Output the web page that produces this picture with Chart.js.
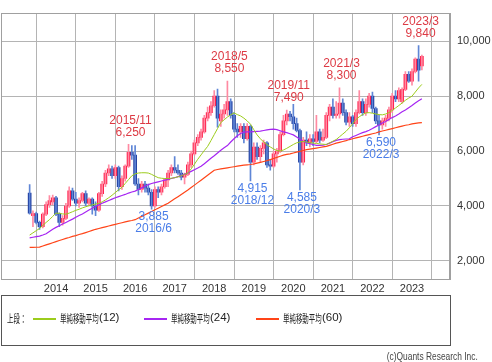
<!DOCTYPE html>
<html>
<head>
<meta charset="utf-8">
<script src="https://cdn.jsdelivr.net/npm/chart.js@4/dist/chart.umd.min.js"></script>
<style>
body { margin: 0; background: #fff; width: 492px; height: 362px; overflow: hidden; position: relative; }
#c { position: absolute; left: 0; top: 0; }
#legend { position: absolute; left: 1px; top: 295px; width: 448px; height: 49px; border: 1px solid #555; }
.lg { position: absolute; font: 11.5px "Noto Sans CJK JP", sans-serif; color: #222; white-space: nowrap; }
.sq { display: inline-block; transform: scaleX(0.56); transform-origin: left center; }
.num { position: absolute; font: 11.5px "Liberation Sans Narrow", "Arial Narrow", sans-serif; color: #222; white-space: nowrap; }
.ln { position: absolute; height: 1.5px; width: 23px; }
#copy { position: absolute; right: 14px; top: 350px; font: 10.5px "Liberation Sans Narrow", "Arial Narrow", sans-serif; color: #444; white-space: nowrap; transform: scaleX(0.8); transform-origin: right center; }
</style>
</head>
<body>
<canvas id="c" width="492" height="296"></canvas>
<div id="legend"></div>
<div id="copy">(c)Quants Research Inc.</div>
<script>
// monthly candles, 2013/5 - 2023/4
months = [
    '2013/5','2013/6','2013/7','2013/8','2013/9','2013/10','2013/11','2013/12',
    '2014/1','2014/2','2014/3','2014/4','2014/5','2014/6','2014/7','2014/8','2014/9','2014/10','2014/11','2014/12',
    '2015/1','2015/2','2015/3','2015/4','2015/5','2015/6','2015/7','2015/8','2015/9','2015/10','2015/11','2015/12',
    '2016/1','2016/2','2016/3','2016/4','2016/5','2016/6','2016/7','2016/8','2016/9','2016/10','2016/11','2016/12',
    '2017/1','2017/2','2017/3','2017/4','2017/5','2017/6','2017/7','2017/8','2017/9','2017/10','2017/11','2017/12',
    '2018/1','2018/2','2018/3','2018/4','2018/5','2018/6','2018/7','2018/8','2018/9','2018/10','2018/11','2018/12',
    '2019/1','2019/2','2019/3','2019/4','2019/5','2019/6','2019/7','2019/8','2019/9','2019/10','2019/11','2019/12',
    '2020/1','2020/2','2020/3','2020/4','2020/5','2020/6','2020/7','2020/8','2020/9','2020/10','2020/11','2020/12',
    '2021/1','2021/2','2021/3','2021/4','2021/5','2021/6','2021/7','2021/8','2021/9','2021/10','2021/11','2021/12',
    '2022/1','2022/2','2022/3','2022/4','2022/5','2022/6','2022/7','2022/8','2022/9','2022/10','2022/11','2022/12',
    '2023/1','2023/2','2023/3','2023/4'
];
opens = [
    4470,3650,3720,3400,3250,3700,4050,4150,
    4300,3700,3400,3550,4000,4550,4250,4100,4200,4450,4100,4250,
    4000,3850,4450,4800,5200,5350,5100,5400,4700,5000,5450,5950,
    5850,4800,4600,4800,4650,4500,4000,4600,4500,4700,4950,5200,
    5400,5300,5200,5050,5150,5500,5900,6300,6500,6700,7200,7400,
    7650,8000,7100,7350,7500,7800,7300,6800,6700,6900,6450,6900,
    5600,6150,5800,6100,6300,5500,5450,5900,6000,6600,7100,7350,
    7250,7000,6750,5600,6400,6300,6450,6350,6700,6400,6500,7300,
    7600,7300,7350,7750,7400,7050,7250,7000,7400,7800,7400,7700,
    8000,7550,7100,6950,7100,7200,7500,8000,7900,7800,8250,8800,
    8550,8900,9350,9100
];
highs = [
    4780,3820,3780,3450,3750,4150,4380,4400,
    4350,3750,3650,4100,4700,4650,4500,4300,4500,4550,4300,4300,
    4150,4500,4900,5300,5500,5450,5500,5450,5100,5500,6250,6200,
    6200,5000,4900,4900,4800,4600,4700,4700,4800,5000,5300,5500,
    5800,5500,5300,5200,5600,6000,6400,6600,6800,7300,7600,7800,
    8200,8260,7500,7700,8550,7900,7400,7000,7000,7000,7000,6950,
    6300,6300,6200,6400,6350,5700,6000,6100,6700,7300,7490,7450,
    7700,7200,6800,6500,6700,6600,6600,7300,6800,6800,7400,7700,
    7900,7800,8300,7900,7500,7400,7300,7500,8200,7900,7900,8100,
    8150,7600,7300,7200,7300,7600,8100,8200,8300,8300,8900,8900,
    9000,9400,9840,9500
];
lows = [
    3700,3250,3350,3150,3200,3650,3950,4050,
    3650,3250,3300,3500,3950,4200,4000,3950,4150,4000,4000,3700,
    3650,3800,4350,4700,5100,5000,5000,4550,4600,4900,5400,5700,
    4750,4400,4500,4500,4400,3885,3950,4300,4400,4650,4700,5100,
    5200,5150,4950,4800,5100,5400,5850,6200,6400,6650,7100,7300,
    7600,6870,6900,7200,7300,7200,6700,6500,6500,6300,6400,4915,
    5500,5700,5600,5900,5400,5300,5400,5600,5950,6550,6950,7100,
    6800,6700,4585,5500,6200,6150,6200,6300,6300,6350,6450,7100,
    7200,7200,7200,7300,6950,6900,6900,6900,7350,7300,7300,7600,
    7400,7000,6590,6800,6900,7100,7400,7800,7800,7750,8200,8500,
    8400,8850,8550,8960
];
closes = [
    3740,3720,3400,3250,3700,4050,4200,4300,
    3700,3400,3550,4000,4550,4250,4100,4200,4450,4100,4250,4000,
    3850,4450,4800,5200,5350,5100,5400,4700,5000,5450,5950,5850,
    4800,4600,4800,4650,4500,4000,4600,4500,4700,4950,5200,5400,
    5300,5200,5050,5150,5500,5900,6300,6500,6700,7200,7400,7650,
    8000,7200,7350,7500,7800,7300,6800,6700,6900,6450,6900,5600,
    6150,5800,6100,6300,5500,5450,5900,6000,6600,7100,7350,7250,
    7000,6750,5600,6400,6300,6450,6350,6700,6400,6500,7300,7600,
    7300,7350,7750,7400,7050,7250,7000,7400,7800,7400,7700,8000,
    7550,7100,6950,7100,7200,7500,8000,7900,8200,8250,8800,8550,
    8900,9350,8950,9450
];
ma12 = [
    2940,3020,3100,3180,3290,3400,3500,3620,
    3740,3730,3710,3700,3740,3790,3840,3880,3930,3970,4010,4040,
    4070,4090,4150,4220,4300,4390,4490,4590,4680,4820,4960,5100,
    5170,5200,5210,5210,5200,5150,5090,5030,5010,5000,5000,5010,
    5030,5060,5100,5150,5200,5350,5520,5700,5860,6020,6170,6380,
    6600,6820,7040,7140,7240,7320,7390,7330,7280,7200,7100,6980,
    6780,6590,6450,6330,6240,6150,6080,6020,6000,6040,6100,6170,
    6240,6300,6330,6350,6330,6310,6290,6280,6260,6250,6240,6300,
    6360,6420,6520,6620,6720,6850,7000,7150,7250,7330,7390,7400,
    7380,7350,7330,7320,7350,7400,7480,7570,7660,7750,7850,7930,
    8000,8150,8300,8430
];
ma24 = [
    2835,2860,2880,2900,2940,2990,3070,3150,
    3220,3280,3340,3400,3460,3520,3590,3650,3710,3780,3850,3920,
    3980,4040,4100,4150,4200,4250,4300,4340,4380,4420,4470,4510,
    4540,4600,4660,4720,4780,4820,4850,4880,4910,4940,4970,5000,
    5030,5070,5110,5160,5200,5260,5320,5380,5450,5540,5640,5740,
    5830,5930,6030,6120,6200,6330,6450,6560,6640,6690,6700,6700,
    6710,6720,6730,6750,6770,6790,6800,6780,6740,6700,6670,6630,
    6590,6510,6430,6350,6310,6270,6240,6210,6210,6220,6240,6290,
    6340,6390,6420,6430,6440,6450,6520,6570,6620,6670,6710,6760,
    6820,6890,6950,7020,7080,7150,7220,7280,7350,7430,7500,7580,
    7660,7750,7830,7910
];
ma60 = [
    2490,2490,2495,2500,2540,2580,2620,2660,
    2700,2740,2780,2820,2850,2890,2920,2960,2990,3030,3070,3110,
    3150,3180,3210,3240,3270,3300,3330,3360,3390,3420,3450,3470,
    3500,3560,3620,3680,3740,3800,3860,3920,3980,4040,4100,4180,
    4260,4340,4420,4500,4580,4670,4760,4850,4940,5030,5120,5210,
    5300,5330,5350,5370,5390,5410,5430,5450,5470,5490,5500,5510,
    5530,5560,5590,5620,5650,5690,5730,5770,5810,5850,5880,5900,
    5930,5960,5990,6020,6050,6070,6090,6110,6130,6150,6170,6210,
    6250,6290,6320,6350,6380,6420,6450,6480,6510,6540,6570,6600,
    6630,6660,6700,6730,6760,6790,6820,6850,6880,6910,6940,6960,
    6990,7010,7030,7040
];
yearTicks = ['2014/1','2015/1','2016/1','2017/1','2018/1','2019/1','2020/1','2021/1','2022/1','2023/1'];
priceTicks = [2000, 4000, 6000, 8000, 10000];
markMonths = ['2015/11','2018/5','2019/11','2021/3','2023/3','2016/6','2018/12','2020/3','2022/3'];
markValues = [6250, 8550, 7490, 8300, 9840, 3885, 4915, 4585, 6590];
markKinds = ['high','high','high','high','high','low','low','low','low'];
maNames = ['単純移動平均', '単純移動平均', '単純移動平均'];
maPeriods = [12, 24, 60];
maColors = ['#9ccc1c', '#a626f2', '#ff4418'];

numFont = '"Liberation Sans Narrow", "Arial Narrow", sans-serif';

marks = {
    id: 'marks',
    afterDatasetsDraw(chart) {
        const c = chart.ctx, xs = chart.scales.x, ys = chart.scales.y;
        c.save();
        c.font = '12px ' + numFont;
        c.textAlign = 'center';
        c.textBaseline = 'middle';
        for (let i in markMonths) {
            const x = xs.getPixelForValue(months.indexOf(markMonths[i])) + 2;
            const y = ys.getPixelForValue(markValues[i]);
            const txt = markValues[i].toLocaleString('en-US');
            if (markKinds[i] == 'high') {
                c.fillStyle = '#dd3a44';
                c.fillText(markMonths[i], x, y - 24);
                c.fillText(txt, x, y - 12);
            } else {
                c.fillStyle = '#4a7de8';
                c.fillText(txt, x, y + 8);
                c.fillText(markMonths[i], x, y + 20);
            }
        }
        c.restore();
    }
};

frame = {
    id: 'frame',
    beforeDatasetsDraw(chart) {
        const a = chart.chartArea, c = chart.ctx;
        c.save();
        c.strokeStyle = '#a0a0a0';
        c.lineWidth = 1;
        c.strokeRect(Math.round(a.left) + 0.5, Math.round(a.top) - 0.5, Math.round(a.right - a.left) - 1, Math.round(a.bottom - a.top) + 1);
        c.restore();
    }
};

onload = function () {
    upWick = []; downWick = []; upBody = []; downBody = [];
    for (let i in months) {
        const m = Number(i);
        if (closes[i] >= opens[i]) {
            upWick.push({x: m, y: [lows[i], highs[i]]});
            upBody.push({x: m, y: [opens[i], closes[i]]});
        } else {
            downWick.push({x: m, y: [lows[i], highs[i]]});
            downBody.push({x: m, y: [closes[i], opens[i]]});
        }
    }
    maData = [ma12, ma24, ma60];
    lines = [];
    for (let k in maData) {
        lines.push({
            type: 'line',
            data: maData[k].map((v, i) => ({x: i, y: v})),
            borderColor: maColors[k],
            borderWidth: k == 0 ? 1 : 1.2,
            pointRadius: 0,
            tension: 0,
            order: 0,
        });
    }
    bar = (d, color, w) => ({type: 'bar', data: d, backgroundColor: color, barThickness: w, grouped: false, borderWidth: 0, order: 1});

    ctx = document.getElementById('c').getContext('2d');
    new Chart(ctx, {
        type: 'bar',
        data: {
            datasets: [
                bar(upWick, '#ff8aa2', 1),
                bar(downWick, '#5f86d6', 1),
                bar(upBody, '#ff1f4b', 3),
                bar(downBody, '#1c3a9e', 3),
            ].concat(lines),
        },
        options: {
            responsive: false,
            animation: false,
            layout: {padding: {left: 1, top: 1, right: 0, bottom: 0}},
            plugins: {legend: {display: false}, tooltip: {enabled: false}},
            scales: {
                x: {
                    type: 'linear',
                    offset: false,
                    min: -8.69,
                    max: 127.53,
                    grid: {color: '#b4b4b4', drawTicks: false},
                    border: {color: '#a0a0a0'},
                    ticks: {
                        padding: 3,
                        color: '#333',
                        font: {family: numFont, size: 11},
                        maxRotation: 0,
                        autoSkip: false,
                        callback: (v) => months[v].split('/')[0],
                    },
                    afterBuildTicks: (s) => { s.ticks = yearTicks.map(t => ({value: months.indexOf(t)})); },
                    afterFit: (s) => { s.height = 17; },
                },
                y: {
                    position: 'right',
                    min: 1339,
                    max: 11009,
                    grid: {color: '#b4b4b4', drawTicks: false},
                    border: {color: '#a0a0a0'},
                    ticks: {
                        padding: 7,
                        color: '#333',
                        font: {family: numFont, size: 11},
                        callback: (v) => v.toLocaleString('en-US'),
                    },
                    afterBuildTicks: (s) => { s.ticks = priceTicks.map(v => ({value: v})); },
                    afterFit: (s) => { s.width = 42; },
                },
            },
        },
        plugins: [frame, marks],
    });

    // legend box below the chart
    lg = document.getElementById('legend');
    lg.innerHTML = '<div class="lg" style="left:5px;top:14px"><span class="sq">上段：</span></div>';
    xs = [31, 142, 254];
    for (let k in maPeriods) {
        const x = xs[k];
        lg.innerHTML += '<div class="ln" style="left:' + x + 'px;top:22px;background:' + maColors[k] + '"></div>'
            + '<div class="lg" style="left:' + (x + 27) + 'px;top:14px"><span class="sq">' + maNames[k] + '</span></div>'
            + '<div class="num" style="left:' + (x + 66) + 'px;top:15px">(' + maPeriods[k] + ')</div>';
    }
}
</script>
</body>
</html>
